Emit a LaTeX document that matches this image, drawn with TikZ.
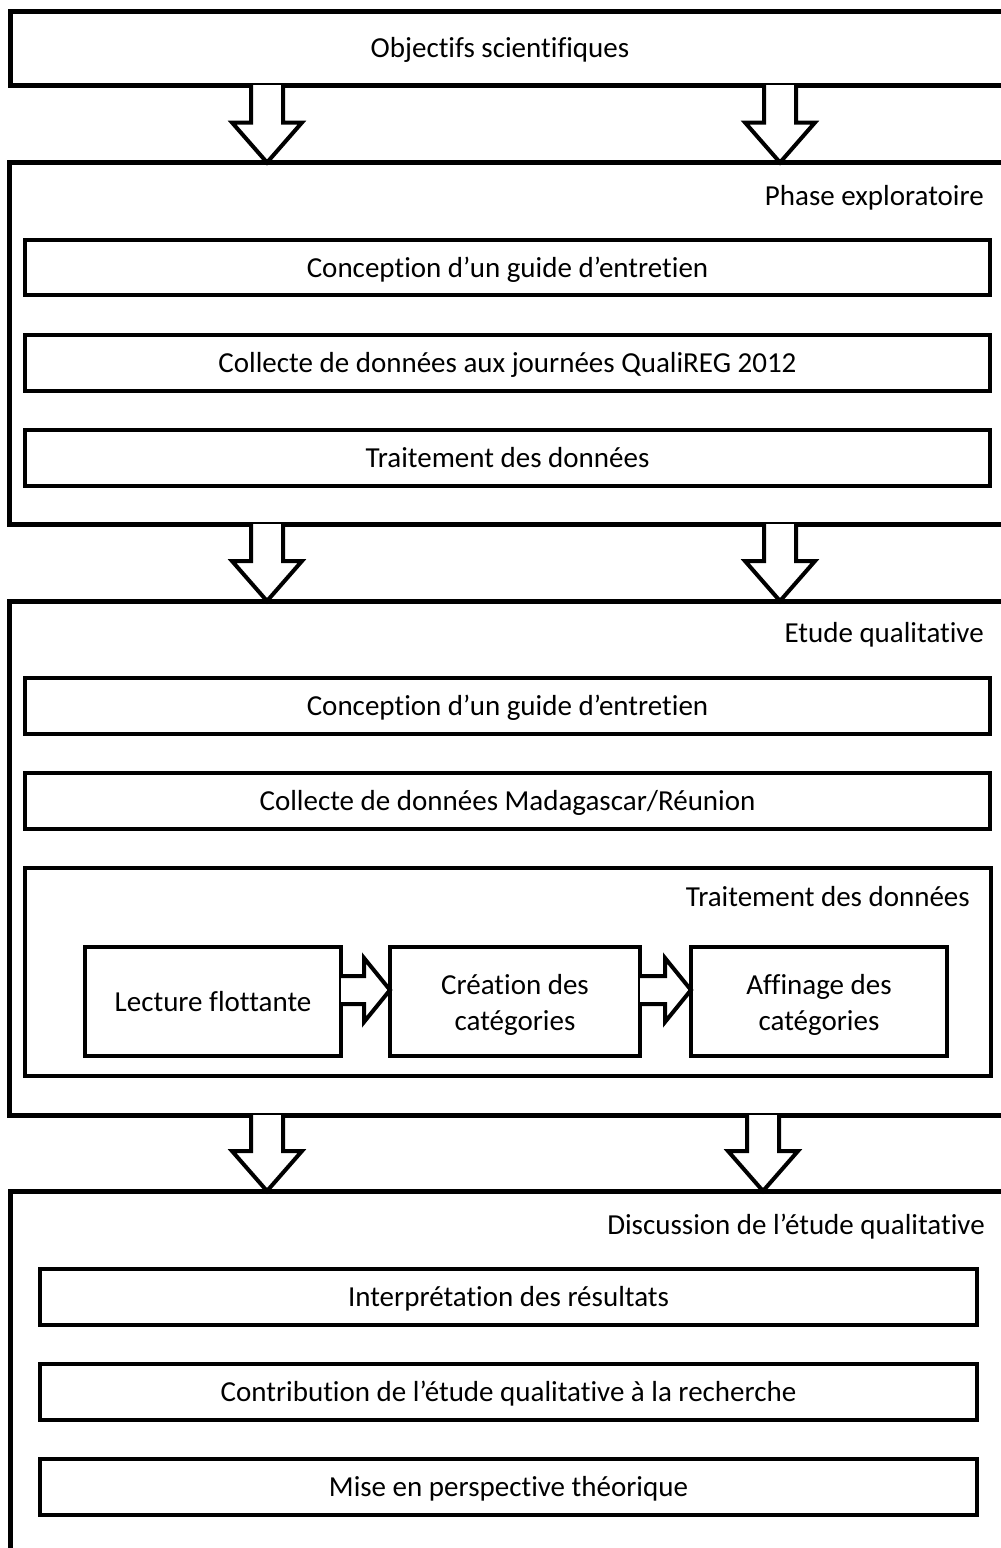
\documentclass[tikz,border=0pt]{standalone}
\usepackage{fontspec}
\setmainfont{Carlito}[Ligatures=CommonOff]
\usetikzlibrary{calc}
\tikzset{
  outerbox/.style={draw, line width=5pt, inner sep=0pt, outer sep=0pt},
  innerbox/.style={draw, line width=4pt, inner sep=0pt, outer sep=0pt,
    font=\fontsize{29}{35.4}\selectfont, text height=27.6pt, text depth=7.8pt},
  subbox/.style={draw, line width=4pt, inner sep=0pt, outer sep=0pt,
    font=\fontsize{29}{35.4}\selectfont, align=center},
  lbl/.style={inner sep=0pt, font=\fontsize{29}{35.4}\selectfont, anchor=base east},
  harrow/.style={draw, line width=4pt, line join=miter, fill=white},
}
\newcommand\dnarrow[3]{%
  \draw[harrow] ($(#1,0 |- #2.south)+(-16,0)$) -- ($(#1,0 |- #3.north)+(-16,-40)$)
    -- ($(#1,0 |- #3.north)+(-35,-40)$) -- (#1,0 |- #3.north)
    -- ($(#1,0 |- #3.north)+(35,-40)$) -- ($(#1,0 |- #3.north)+(16,-40)$)
    -- ($(#1,0 |- #2.south)+(16,0)$);}
\newcommand\rtarrow[3]{%
  \draw[harrow] ($(#2.east |- 0,#1)+(0,-14)$) -- ($(#3.west |- 0,#1)+(-26,-14)$)
    -- ($(#3.west |- 0,#1)+(-26,-32)$) -- (#3.west |- 0,#1)
    -- ($(#3.west |- 0,#1)+(-26,32)$) -- ($(#3.west |- 0,#1)+(-26,14)$)
    -- ($(#2.east |- 0,#1)+(0,14)$);}
\newcommand\twolines[2]{\raisebox{-4pt}[\height][\depth]{\begin{tabular}{@{}c@{}}#1\\#2\end{tabular}}}
\begin{document}
\begin{tikzpicture}[x=1pt, y=-1pt]
\useasboundingbox (0,0) rectangle (1001,1548);
\clip (0,0) rectangle (1001,1548);
% top box
\node[outerbox, minimum width=1020pt, minimum height=74pt] (top) at (520,48) {};
\node[innerbox, draw=none] (toptxt) at (500,48) {Objectifs scientifiques};
% phase exploratoire
\node[outerbox, minimum width=1020.5pt, minimum height=361.5pt] (phase) at (519.75,343.25) {};
\node[lbl] (phaselbl) at (984,205) {Phase exploratoire};
\node[innerbox, minimum width=965pt, minimum height=55.5pt] (p1) at (507.5,267.25) {Conception d’un guide d’entretien};
\node[innerbox, minimum width=965pt, minimum height=56pt] (p2) at (507.5,363) {Collecte de données aux journées QualiREG 2012};
\node[innerbox, minimum width=965pt, minimum height=56pt] (p3) at (507.5,458) {Traitement des données};
% etude qualitative
\node[outerbox, minimum width=1020.5pt, minimum height=514pt] (etude) at (519.75,858) {};
\node[lbl] (etudelbl) at (984,642) {Etude qualitative};
\node[innerbox, minimum width=965pt, minimum height=56pt] (e1) at (507.5,706) {Conception d’un guide d’entretien};
\node[innerbox, minimum width=965pt, minimum height=56pt] (e2) at (507.5,801) {Collecte de données Madagascar/Réunion};
\node[outerbox, line width=4pt, minimum width=966pt, minimum height=208pt] (e3) at (508,972) {};
\node[lbl] (e3lbl) at (970,906) {Traitement des données};
\node[innerbox, minimum width=256pt, minimum height=109pt] (s1) at (213,1001.5) {Lecture flottante};
\node[subbox, minimum width=250pt, minimum height=109pt] (s2) at (515,1001.5) {\twolines{Création des}{catégories}};
\node[subbox, minimum width=256pt, minimum height=109pt] (s3) at (819,1001.5) {\twolines{Affinage des}{catégories}};
\rtarrow{990}{s1}{s2}
\rtarrow{990}{s2}{s3}
% discussion
\node[outerbox, minimum width=1020pt, minimum height=429pt] (disc) at (520,1405.5) {};
\node[lbl] (disclbl) at (985,1234) {Discussion de l’étude qualitative};
\node[innerbox, minimum width=937pt, minimum height=56pt] (d1) at (508.5,1297) {Interprétation des résultats};
\node[innerbox, minimum width=937pt, minimum height=56pt] (d2) at (508.5,1392) {Contribution de l’étude qualitative à la recherche};
\node[innerbox, minimum width=937pt, minimum height=56pt] (d3) at (508.5,1487) {Mise en perspective théorique};
% big arrows
\dnarrow{267}{top}{phase}
\dnarrow{780}{top}{phase}
\dnarrow{267}{phase}{etude}
\dnarrow{780}{phase}{etude}
\dnarrow{267}{etude}{disc}
\dnarrow{763}{etude}{disc}
\end{tikzpicture}
\end{document}
